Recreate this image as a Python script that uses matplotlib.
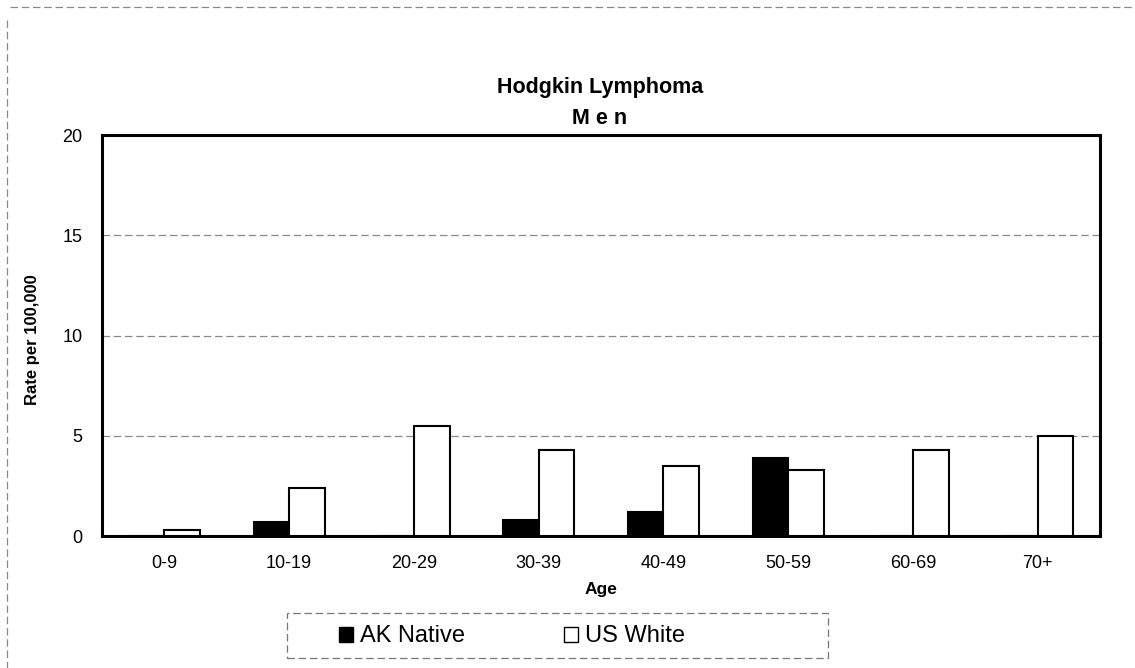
import matplotlib
matplotlib.use("Agg")
import matplotlib.pyplot as plt
from matplotlib.patches import Patch, Rectangle
from matplotlib.lines import Line2D
import numpy as np

plt.rcParams['font.family'] = ['Liberation Sans', 'DejaVu Sans']

# data
ages = ["0-9", "10-19", "20-29", "30-39", "40-49", "50-59", "60-69", "70+"]
ak_native = [0.0, 0.7, 0.0, 0.8, 1.2, 3.9, 0.0, 0.0]
us_white = [0.3, 2.4, 5.5, 4.3, 3.5, 3.3, 4.3, 5.0]
yticks = [0, 5, 10, 15, 20]

W, H = 1135, 668
fig = plt.figure(figsize=(11.35, 6.68), dpi=100)
ax = fig.add_axes([0.0899, 0.1976, 0.8793, 0.6003])

x = np.arange(len(ages))
w = 1 / 3.5
ax.bar(x - w / 2, ak_native, w, color="black", edgecolor="black", linewidth=1.5, zorder=3)
ax.bar(x + w / 2, us_white, w, color="white", edgecolor="black", linewidth=1.5, zorder=3)

ax.set_xlim(-0.5, len(ages) - 0.5)
ax.set_ylim(0, 20)
ax.set_yticks(yticks)
ax.set_xticks(x)
ax.set_xticklabels(ages)
ax.tick_params(axis="x", length=0, pad=14, labelsize=13)
ax.tick_params(axis="y", length=0, pad=14, labelsize=13)

for v in yticks[1:-1]:
    ax.axhline(v, color="#888888", linestyle=(0, (6, 3)), linewidth=0.9, zorder=1)

for s in ax.spines.values():
    s.set_linewidth(2.2)
    s.set_color("black")

ax.set_xlabel("Age", fontsize=12.5, fontweight="bold", labelpad=7)
ax.set_ylabel("Rate per 100,000", fontsize=12, fontweight="bold", labelpad=9)
ax.yaxis.set_label_coords(-0.062, 0.49)

fig.text(0.5286, 1 - 88 / H, "Hodgkin Lymphoma", ha="center", va="center",
         fontsize=15.5, fontweight="bold")
fig.text(0.5286, 1 - 118 / H, "M e n", ha="center", va="center",
         fontsize=15.5, fontweight="bold")

# legend entries (frame drawn separately, it is not centred on the entries)
handles = [Patch(facecolor="black", edgecolor="black", label="AK Native"),
           Patch(facecolor="white", edgecolor="black", label="US White")]
leg = fig.legend(handles=handles, loc="center", ncol=2,
                 bbox_to_anchor=(512 / W, 1 - 636.5 / H),
                 fontsize=17, frameon=False,
                 handlelength=0.6, handleheight=0.6, handletextpad=0.3,
                 columnspacing=4.2, borderpad=0, borderaxespad=0)

fig.add_artist(Rectangle((287 / W, 1 - 658 / H), (828 - 287) / W, 45 / H,
                         transform=fig.transFigure, fill=False, edgecolor="#777777",
                         linestyle=(0, (6, 3)), linewidth=0.9))

# outer dashed border
fig.add_artist(Line2D([10 / W, 1.0], [1 - 7 / H, 1 - 7 / H], transform=fig.transFigure,
                      color="#888888", linestyle=(0, (6, 3)), linewidth=0.9))
fig.add_artist(Line2D([7 / W, 7 / W], [1 - 20 / H, 0.0], transform=fig.transFigure,
                      color="#888888", linestyle=(0, (6, 3)), linewidth=0.9))

fig.savefig("out.png", dpi=100, facecolor="white")
